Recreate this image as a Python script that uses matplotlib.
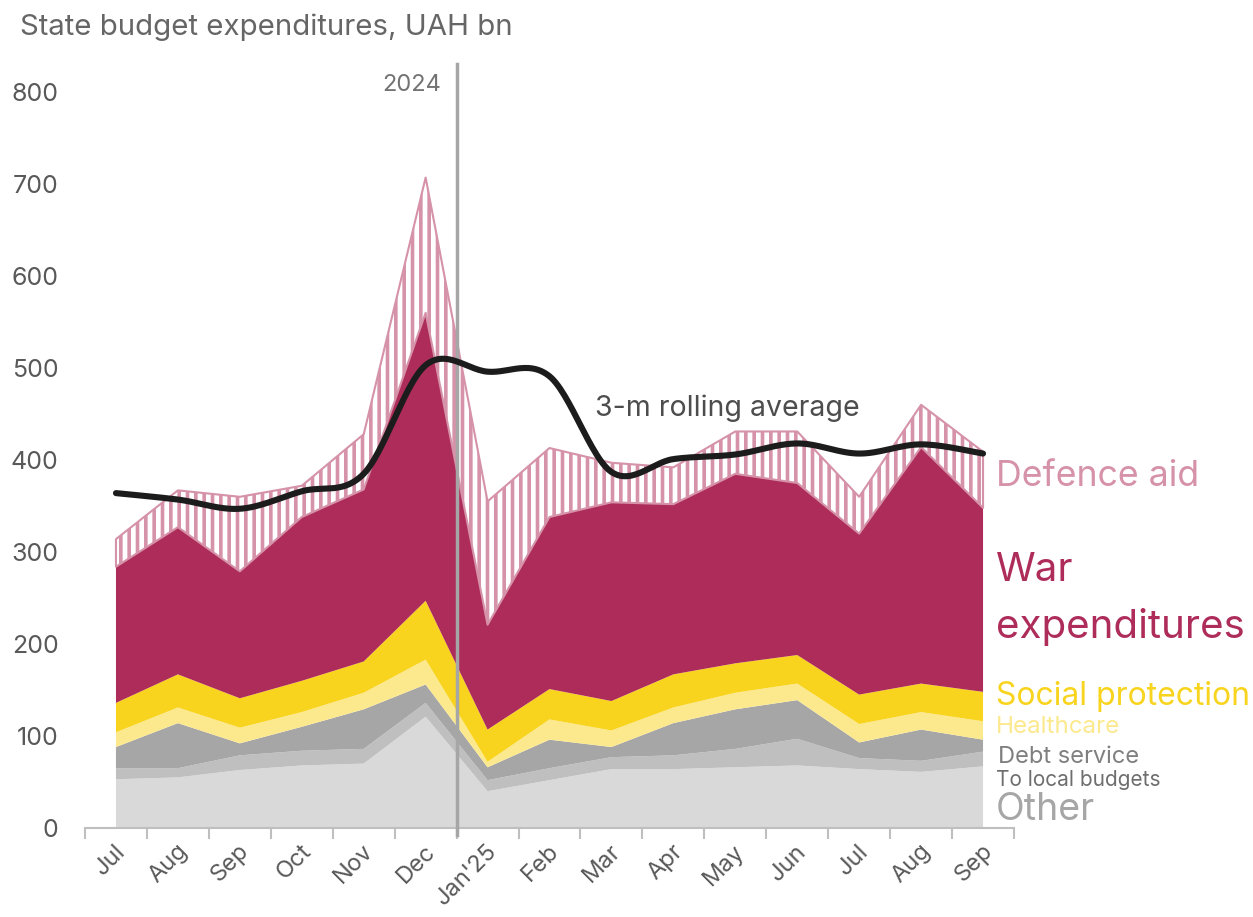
import numpy as np
import matplotlib.pyplot as plt
import matplotlib.transforms as mtransforms

plt.rcParams['font.family'] = ['Inter', 'DejaVu Sans']
plt.rcParams['hatch.linewidth'] = 2.6

months = ['Jul', 'Aug', 'Sep', 'Oct', 'Nov', 'Dec', "Jan'25", 'Feb', 'Mar',
          'Apr', 'May', 'Jun', 'Jul', 'Aug', 'Sep']

# UAH bn
other = [53, 55, 63, 68, 70, 121, 40, 52, 64, 64, 66, 68, 64, 61, 67]
local_budgets = [12, 10, 16, 16, 16, 15, 12, 13, 13, 15, 20, 29, 12, 12, 16]
debt_service = [23, 49, 13, 26, 43, 20, 14, 31, 11, 35, 43, 42, 17, 34, 13]
healthcare = [16, 17, 17, 16, 18, 27, 6, 22, 18, 17, 18, 18, 20, 19, 20]
social = [32, 36, 32, 34, 34, 64, 35, 33, 32, 36, 32, 31, 32, 31, 32]
war = [148, 160, 138, 178, 187, 313, 114, 187, 216, 185, 206, 187, 175, 257, 200]
defence_aid = [30, 40, 81, 34, 60, 147, 134, 75, 43, 40, 46, 56, 40, 46, 61]
rolling = [364, 357, 347, 366, 385, 503, 496, 491, 387, 401, 406, 418, 407, 417, 407]

layers = [other, local_budgets, debt_service, healthcare, social, war]
colors = ['#D9D9D9', '#BFBFBF', '#A6A6A6', '#FDE98D', '#F8D41E', '#AE2C5A']


def smooth(x, y, n=30):
    # Catmull-Rom style smoothing (like a spreadsheet "smoothed line")
    x = np.asarray(x, float)
    y = np.asarray(y, float)
    px = np.concatenate([[x[0]], x, [x[-1]]])
    py = np.concatenate([[y[0]], y, [y[-1]]])
    xs, ys = [], []
    t = np.linspace(0, 1, n)
    for i in range(len(x) - 1):
        p0 = np.array([px[i + 1], py[i + 1]])
        p3 = np.array([px[i + 2], py[i + 2]])
        p1 = p0 + (np.array([px[i + 2], py[i + 2]]) - np.array([px[i], py[i]])) / 6
        p2 = p3 - (np.array([px[i + 3], py[i + 3]]) - np.array([px[i + 1], py[i + 1]])) / 6
        b = ((1 - t) ** 3)[:, None] * p0 + (3 * (1 - t) ** 2 * t)[:, None] * p1 \
            + (3 * (1 - t) * t ** 2)[:, None] * p2 + (t ** 3)[:, None] * p3
        xs.extend(b[:, 0])
        ys.extend(b[:, 1])
    return np.array(xs), np.array(ys)


fig = plt.figure(figsize=(12.53, 9.17), dpi=100)
ax = fig.add_axes([85 / 1253, 89 / 917, (1014 - 85) / 1253, (828 - 64.4) / 917])

x = np.arange(len(months))
base = np.zeros(len(months))
for vals, c in zip(layers, colors):
    top = base + np.array(vals)
    ax.fill_between(x, base, top, facecolor=c, edgecolor='none', linewidth=0, zorder=2)
    base = top

total = base + np.array(defence_aid)
ax.fill_between(x, base, total, facecolor='white', edgecolor='#D592A8',
                hatch='||', linewidth=1.5, zorder=2)

ax.plot([5.5, 5.5], [-8, 830], color='#A6A6A6', lw=2.5, clip_on=False, zorder=3)
ax.text(5.25, 808, '2024', ha='right', va='center', fontsize=17, color='#737373')

sx, sy = smooth(x, rolling)
ax.plot(sx, sy, color='#1C1C1C', lw=4.4, solid_capstyle='round', zorder=4)
ax.text(7.74, 456, '3-m rolling average', ha='left', va='center', fontsize=20.5, color='#4D4D4D')

ax.set_xlim(-0.5, 14.5)
ax.set_ylim(0, 830)
for s in ['top', 'right', 'left']:
    ax.spines[s].set_visible(False)
ax.spines['bottom'].set_color('#BFBFBF')
ax.spines['bottom'].set_linewidth(1.5)

ax.set_yticks(np.arange(0, 801, 100))
ax.tick_params(axis='y', length=0, pad=19, labelsize=18, labelcolor='#595959')
ax.set_xticks(x)
ax.set_xticklabels(months)
ax.set_xticks(np.arange(-0.5, 15, 1), minor=True)
ax.tick_params(axis='x', which='major', length=0, pad=0, labelsize=17, labelcolor='#595959')
ax.tick_params(axis='x', which='minor', length=8, width=1.5, color='#BFBFBF')
offset = mtransforms.ScaledTranslation(6 / 100, -20 / 100, fig.dpi_scale_trans)
for lab in ax.get_xticklabels():
    lab.set_rotation(45)
    lab.set_ha('right')
    lab.set_va('center')
    lab.set_rotation_mode('anchor')
    lab.set_transform(lab.get_transform() + offset)

fig.text(20 / 1253, 1 - 27 / 917, 'State budget expenditures, UAH bn', ha='left', va='center',
         fontsize=21.2, color='#666666')

lx = 14.21
ax.text(lx, 382, 'Defence aid', fontsize=25.7, color='#D592A8', va='center', clip_on=False)
ax.text(lx, 280, 'War', fontsize=29, color='#AE2C5A', va='center', clip_on=False)
ax.text(lx, 218, 'expenditures', fontsize=29, color='#AE2C5A', va='center', clip_on=False)
ax.text(lx, 143, 'Social protection', fontsize=23, color='#F8D41E', va='center', clip_on=False)
ax.text(lx, 110, 'Healthcare', fontsize=17.4, color='#FDE98D', va='center', clip_on=False)
ax.text(lx + 0.03, 77, 'Debt service', fontsize=17, color='#7F7F7F', va='center', clip_on=False)
ax.text(lx, 52, 'To local budgets', fontsize=15, color='#6E6E6E', va='center', clip_on=False)
ax.text(lx, 20, 'Other', fontsize=27, color='#A6A6A6', va='center', clip_on=False)

fig.savefig('out.png', dpi=100)
